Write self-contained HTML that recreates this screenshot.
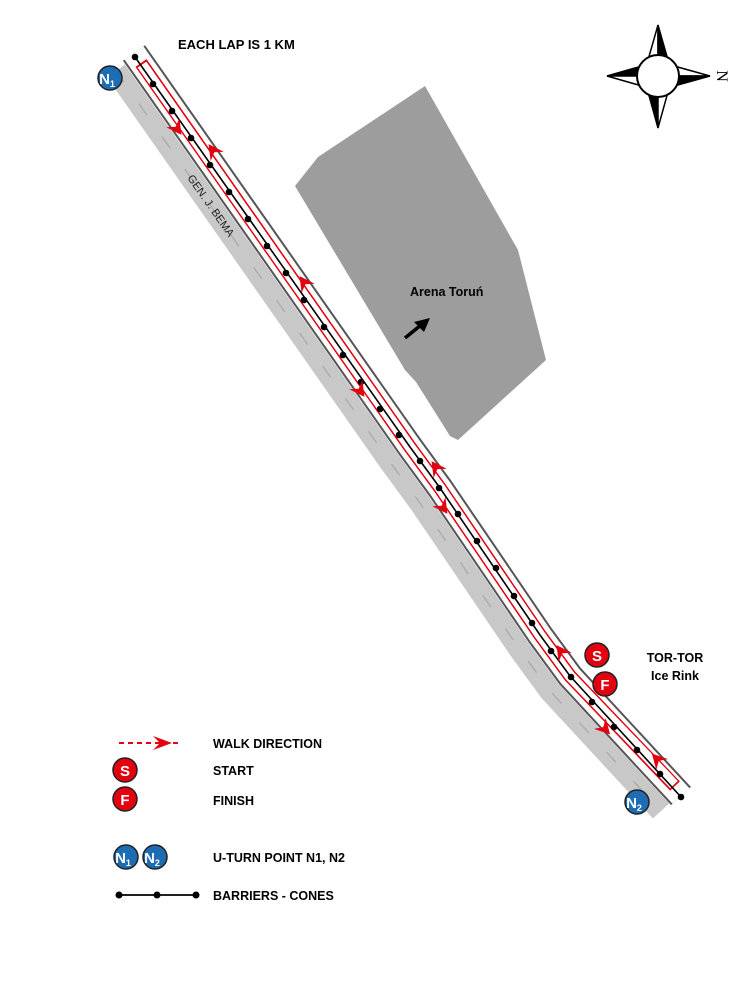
<!DOCTYPE html>
<html><head><meta charset="utf-8"><style>
html,body{margin:0;padding:0;background:#fff;}
svg{display:block;}
text{font-family:"Liberation Sans",sans-serif;font-weight:bold;}
</style></head><body>
<svg width="756" height="1004" viewBox="0 0 756 1004" xmlns="http://www.w3.org/2000/svg">
<defs>
<g id="ah"><path d="M6,0 L-9,-8 L-4,0 L-9,8 Z" fill="#e3000f"/></g>
</defs>
<polygon points="295,186 318,157 425,86 518,250 546,360 458,440 450,436 416,382 405,370" fill="#9d9d9d"/>
<polyline points="116,71 390,462 420,503 520,650 550,691 661,811" fill="none" stroke="#c8c8c8" stroke-width="22" stroke-linejoin="round"/>
<polyline points="116,71 390,462 420,503 520,650 550,691 661,811" fill="none" stroke="#aaa" stroke-width="1.3" stroke-dasharray="14 26"/>
<polyline points="134,53 410,447 440,488 540,635 570,676 681,796" fill="none" stroke="#555" stroke-width="27" stroke-linejoin="round"/>
<polyline points="134,53 410,447 440,488 540,635 570,676 681,796" fill="none" stroke="#fff" stroke-width="23" stroke-linejoin="round"/>
<polyline points="141,63 410,447 440,488 540,635 570,676 675,786" fill="none" stroke="#e3000f" stroke-width="13.5" stroke-linejoin="round"/>
<polyline points="142,64.6 410,447 440,488 540,635 570,676 674,784.6" fill="none" stroke="#fff" stroke-width="10.5" stroke-linejoin="round"/>
<polyline points="135,57 410,447 440,488 540,635 570,676 681,797" fill="none" stroke="#000" stroke-width="1.6"/>
<g fill="#000">
<circle cx="135" cy="57" r="3.3"/><circle cx="153" cy="84" r="3.3"/><circle cx="172" cy="111" r="3.3"/><circle cx="191" cy="138" r="3.3"/><circle cx="210" cy="165" r="3.3"/><circle cx="229" cy="192" r="3.3"/><circle cx="248" cy="219" r="3.3"/><circle cx="267" cy="246" r="3.3"/><circle cx="286" cy="273" r="3.3"/><circle cx="304" cy="300" r="3.3"/><circle cx="324" cy="327" r="3.3"/><circle cx="343" cy="355" r="3.3"/><circle cx="361" cy="382" r="3.3"/><circle cx="380" cy="409" r="3.3"/><circle cx="399" cy="435" r="3.3"/><circle cx="420" cy="461" r="3.3"/><circle cx="439" cy="488" r="3.3"/><circle cx="458" cy="514" r="3.3"/><circle cx="477" cy="541" r="3.3"/><circle cx="496" cy="568" r="3.3"/><circle cx="514" cy="596" r="3.3"/><circle cx="532" cy="623" r="3.3"/><circle cx="551" cy="651" r="3.3"/><circle cx="571" cy="677" r="3.3"/><circle cx="592" cy="702" r="3.3"/><circle cx="614" cy="727" r="3.3"/><circle cx="637" cy="750" r="3.3"/><circle cx="660" cy="774" r="3.3"/><circle cx="681" cy="797" r="3.3"/>
</g>
<use href="#ah" transform="translate(178,130) rotate(55)"/>
<use href="#ah" transform="translate(361,392) rotate(55)"/>
<use href="#ah" transform="translate(444,509) rotate(55)"/>
<use href="#ah" transform="translate(606,730) rotate(47)"/>
<use href="#ah" transform="translate(212,149) rotate(-125)"/>
<use href="#ah" transform="translate(303,281) rotate(-125)"/>
<use href="#ah" transform="translate(435,466) rotate(-125)"/>
<use href="#ah" transform="translate(560,650) rotate(-125)"/>
<use href="#ah" transform="translate(656,758) rotate(-133)"/>
<line x1="405" y1="338" x2="421" y2="325" stroke="#000" stroke-width="3.5"/>
<polygon points="430,318 414,322 424,332" fill="#000"/>
<g stroke="#000" stroke-width="1.5" stroke-linejoin="miter">
<polygon points="658,25 648,60 658,62" fill="#fff"/><polygon points="658,25 668,60 658,62" fill="#000"/>
<polygon points="658,128 648,92 658,90" fill="#000"/><polygon points="658,128 668,92 658,90" fill="#fff"/>
<polygon points="607,76 642,66 644,76" fill="#000"/><polygon points="607,76 642,86 644,76" fill="#fff"/>
<polygon points="710,76 674,66 672,76" fill="#fff"/><polygon points="710,76 674,86 672,76" fill="#000"/>
<circle cx="658" cy="76" r="21" fill="#fff" stroke-width="2"/>
</g>
<text transform="translate(717,76) rotate(90)" text-anchor="middle" style="font-family:'Liberation Serif',serif;font-weight:normal" font-size="16">N</text>
<text x="178" y="49" font-size="13">EACH LAP IS 1 KM</text>
<text transform="translate(187,178) rotate(55)" font-size="11" style="font-weight:normal" fill="#222">GEN. J. BEMA</text>
<text x="410" y="296" font-size="12.5">Arena Toruń</text>
<text x="675" y="662" font-size="12.5" text-anchor="middle">TOR-TOR</text>
<text x="675" y="680" font-size="12.5" text-anchor="middle">Ice Rink</text>
<g stroke="#222" stroke-width="1.5">
<circle cx="110" cy="78" r="12" fill="#1d6db4"/>
<circle cx="637" cy="802" r="12" fill="#1d6db4"/>
<circle cx="597" cy="655" r="12" fill="#e3000f"/>
<circle cx="605" cy="684" r="12" fill="#e3000f"/>
<circle cx="125" cy="770" r="12" fill="#e3000f"/>
<circle cx="125" cy="799" r="12" fill="#e3000f"/>
<circle cx="126" cy="857" r="12" fill="#1d6db4"/>
<circle cx="155" cy="857" r="12" fill="#1d6db4"/>
</g>
<g fill="#fff" font-size="15" text-anchor="middle">
<text x="107" y="84">N<tspan font-size="9" dy="3">1</tspan></text>
<text x="634" y="808">N<tspan font-size="9" dy="3">2</tspan></text>
<text x="123" y="863">N<tspan font-size="9" dy="3">1</tspan></text>
<text x="152" y="863">N<tspan font-size="9" dy="3">2</tspan></text>
<text x="597" y="661">S</text>
<text x="605" y="690">F</text>
<text x="125" y="776">S</text>
<text x="125" y="805">F</text>
</g>
<line x1="119" y1="743" x2="182" y2="743" stroke="#e3000f" stroke-width="2" stroke-dasharray="5 4"/>
<polygon points="172,743 153,736 160,743 153,750" fill="#e3000f"/>
<line x1="119" y1="895" x2="196" y2="895" stroke="#000" stroke-width="1.8"/>
<circle cx="119" cy="895" r="3.5"/><circle cx="157" cy="895" r="3.5"/><circle cx="196" cy="895" r="3.5"/>
<g font-size="12.5">
<text x="213" y="748">WALK DIRECTION</text>
<text x="213" y="775">START</text>
<text x="213" y="805">FINISH</text>
<text x="213" y="862">U-TURN POINT N1, N2</text>
<text x="213" y="900">BARRIERS - CONES</text>
</g>
</svg>
</body></html>
